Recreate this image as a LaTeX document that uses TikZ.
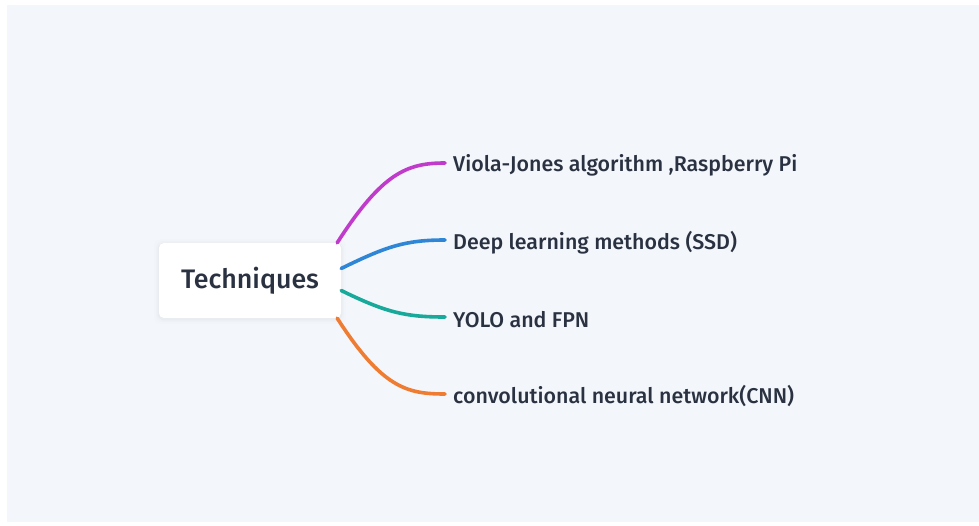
\documentclass[tikz,border=0pt]{standalone}
\usepackage{fontspec}
\setmainfont{Fira Sans}[UprightFont={* Medium}]
\usetikzlibrary{calc}
\definecolor{bg}{HTML}{F3F6FA}
\definecolor{ink}{HTML}{2A3242}
\definecolor{cpurple}{HTML}{C03BCB}
\definecolor{cblue}{HTML}{2F86D6}
\definecolor{cteal}{HTML}{17A99A}
\definecolor{corange}{HTML}{EE7D33}
\tikzset{
  root/.style={fill=white, rounded corners=5pt, minimum width=182pt, minimum height=75pt, inner sep=0pt, text=ink, font=\fontsize{26.8}{30}\selectfont},
  leaf/.style={anchor=west, inner xsep=8pt, inner ysep=2pt, text=ink, font=\fontsize{21.4}{25}\selectfont},
  branch/.style={line width=3.6pt, line cap=round},
}
\begin{document}
\begin{tikzpicture}[x=1pt,y=-1pt]
\useasboundingbox (0,0) rectangle (979,526);
\fill[white] (0,0) rectangle (979,526);
\fill[bg] (7,5) rectangle (979,522);
% soft shadow
\foreach \i/\o in {5/0.008,3/0.012,1.5/0.018}{
  \fill[black, opacity=\o, rounded corners=7pt] (159-\i,242-\i+2) rectangle (341+\i,317+\i+2);
}
\node[root] (t) at (250,280.5) {Techniques};
\node[leaf] (a) at (445,165.5) {Viola-Jones algorithm ,Raspberry Pi};
\node[leaf] (b) at (445,242.5) {Deep learning methods (SSD)};
\node[leaf] (c) at (445,319.5) {YOLO and FPN};
\node[leaf] (d) at (445,396.5) {convolutional neural network(CNN)};
\coordinate (sa) at ($(t.north east)+(-4,0)$);
\coordinate (sb) at ($(t.east)+(0,-12)$);
\coordinate (sc) at ($(t.east)+(0,10)$);
\coordinate (sd) at ($(t.south east)+(-4,0)$);
\draw[branch, cpurple] (sa) .. controls +(45,-70) and +(-38,0) .. ($(a.west)+(0,-2.5)$);
\draw[branch, cblue] (sb) .. controls +(45,-22) and +(-40,0) .. ($(b.west)+(0,-2.5)$);
\draw[branch, cteal] (sc) .. controls +(45,22) and +(-40,0) .. ($(c.west)+(0,-2.5)$);
\draw[branch, corange] (sd) .. controls +(45,70) and +(-38,0) .. ($(d.west)+(0,-2.5)$);
\end{tikzpicture}
\end{document}
